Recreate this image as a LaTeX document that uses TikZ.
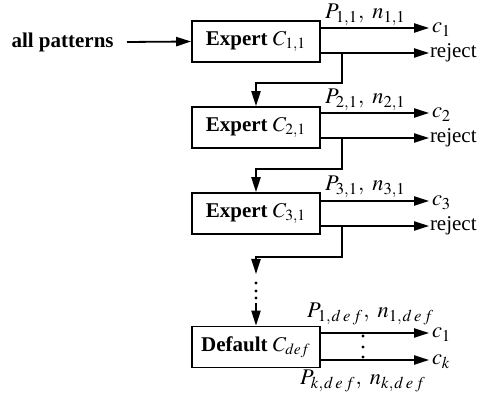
\documentclass[tikz,border=0pt]{standalone}
\usepackage{mathptmx}
\usepackage{fontspec}
\setmainfont{Liberation Serif}
\usetikzlibrary{arrows.meta,calc}
\newcommand{\dfsub}{\mkern1mu d\mkern2.5mu e\mkern2.5mu f}
\begin{document}
\begin{tikzpicture}[x=0.5pt,y=-0.5pt,
  every node/.style={font=\fontsize{10.5}{12}\selectfont},
  box/.style={draw,line width=0.9pt,minimum width=64pt,minimum height=20.5pt,inner sep=0pt},
  lab/.style={anchor=base west,inner sep=0pt,outer sep=0pt},
  plab/.style={lab,font=\fontsize{11.2}{13}\selectfont},
  arr/.style={line width=0.9pt,-{Triangle[length=7.5pt,width=4.6pt]}},
  ln/.style={line width=0.9pt}]
\useasboundingbox (0,0) rectangle (477,400);
% boxes
\node[box] (b1) at (256,41.5) {\textbf{Expert} $C_{1,1}$};
\node[box] (b2) at (256,127.5) {\textbf{Expert} $C_{2,1}$};
\node[box] (b3) at (256,213.5) {\textbf{Expert} $C_{3,1}$};
\node[box] (bd) at (256,347) {\textbf{Default} $C_{def}$};
% input
\node[anchor=east,inner sep=0pt] (in) at (114,42) {\textbf{all patterns}};
\draw[arr] ([xshift=6.5pt]in.east) -- (b1.west);
% output tips
\coordinate (t1) at (429,28);  \coordinate (r1) at (429,53);
\coordinate (t2) at (429,113); \coordinate (r2) at (429,138);
\coordinate (t3) at (429,201); \coordinate (r3) at (429,226);
\coordinate (td) at (429,333); \coordinate (tk) at (429,360);
\draw[arr] (b1.east |- t1) -- (t1);
\draw[arr] (b1.east |- r1) -- (r1);
\draw[arr] (b2.east |- t2) -- (t2);
\draw[arr] (b2.east |- r2) -- (r2);
\draw[arr] (b3.east |- t3) -- (t3);
\draw[arr] (b3.east |- r3) -- (r3);
\draw[arr] (bd.east |- td) -- (td);
\draw[arr] (bd.east |- tk) -- (tk);
% output labels
\node[plab] (c1) at (432,33) {$c_1$};
\node[lab] (rj1) at (430,58) {reject};
\node[plab] (c2) at (432,118) {$c_2$};
\node[lab] (rj2) at (430,143) {reject};
\node[plab] (c3) at (432,206) {$c_3$};
\node[lab] (rj3) at (430,231) {reject};
\node[plab] (cd1) at (432,338) {$c_1$};
\node[plab] (cdk) at (432,365) {$c_k$};
% probability labels
\node[plab] (p1) at (325,19) {$P_{1,1},\ n_{1,1}$};
\node[plab] (p2) at (325,104) {$P_{2,1},\ n_{2,1}$};
\node[plab] (p3) at (325,191) {$P_{3,1},\ n_{3,1}$};
\node[plab] (pd1) at (307,318) {$P_{1,\dfsub},\ n_{1,\dfsub}$};
\node[plab] (pdk) at (300,385) {$P_{k,\dfsub},\ n_{k,\dfsub}$};
% reject chains
\coordinate (j1) at (342,53);
\coordinate (j2) at (342,138);
\coordinate (j3) at (342,226);
\draw[arr] (j1) -- ++(0,30) -| (b2.north);
\draw[arr] (j2) -- ++(0,31) -| (b3.north);
\coordinate (d1) at (256,274);
\coordinate (d2) at (256,303);
\draw[arr] (j3) -- ++(0,31) -| (d1);
\fill (256,283) circle (0.8pt) (256,291) circle (0.8pt) (256,298) circle (0.8pt);
\draw[arr] (d2) -- (bd.north);
% vertical dots between default outputs
\fill (363,336) circle (0.8pt) (363,347) circle (0.8pt) (363,357) circle (0.8pt);
\end{tikzpicture}
\end{document}
